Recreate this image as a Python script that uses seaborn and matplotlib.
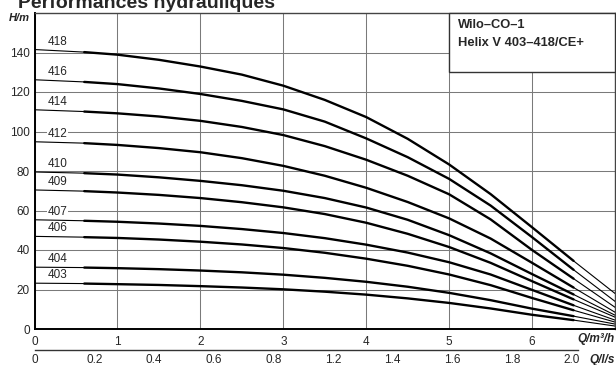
import numpy as np
import pandas as pd
import matplotlib
matplotlib.use("Agg")
import matplotlib.pyplot as plt
import seaborn as sns
from matplotlib.patches import Rectangle

# ---------------- data ----------------
q = [0, 0.6, 1, 1.5, 2, 2.5, 3, 3.5, 4, 4.5, 5, 5.5, 6, 6.5, 7]
h418 = [141.5, 140.2, 138.9, 136.3, 132.9, 128.8, 123.2, 116.0, 107.3, 96.3, 83.3, 68.3, 51.5, 34.5, 18]
h416 = [126.2, 125.1, 124.0, 121.8, 119.0, 115.5, 111.2, 105.0, 96.5, 87.0, 76.0, 62.5, 46.5, 30, 14]
h414 = [111, 110.1, 109.2, 107.6, 105.4, 102.3, 98.2, 92.6, 85.7, 77.6, 68.2, 55.5, 40.0, 25.5, 11]
h412 = [94.8, 94.1, 93.2, 91.6, 89.5, 86.5, 82.6, 77.6, 71.5, 64.3, 56.0, 45.8, 33.5, 21, 8.5]
h410 = [79.5, 78.9, 78.2, 76.8, 75.0, 72.8, 70.0, 66.3, 61.5, 55.3, 47.5, 38.3, 27.8, 17.5, 7]
h409 = [70.4, 69.8, 69.1, 67.9, 66.3, 64.2, 61.6, 58.2, 53.8, 48.2, 41.5, 33.5, 24.2, 15, 6]
h407 = [55.3, 54.8, 54.3, 53.4, 52.2, 50.6, 48.6, 46.0, 42.7, 38.7, 33.8, 27.6, 19.8, 12, 4.5]
h406 = [46.9, 46.5, 46.1, 45.3, 44.2, 42.8, 41.0, 38.6, 35.6, 32.0, 27.6, 22.2, 15.7, 9.5, 3.5]
h404 = [31.3, 31.1, 30.8, 30.3, 29.6, 28.7, 27.5, 25.9, 23.9, 21.4, 18.3, 14.6, 10.3, 6.5, 2.5]
h403 = [23.2, 23.0, 22.7, 22.3, 21.7, 21.0, 20.1, 18.9, 17.4, 15.5, 13.2, 10.4, 7.2, 4.5, 1.5]
curve_names = ["418", "416", "414", "412", "410", "409", "407", "406", "404", "403"]
curves = [h418, h416, h414, h412, h410, h409, h407, h406, h404, h403]

yticks = [0, 20, 40, 60, 80, 100, 120, 140]
xticks = [0, 1, 2, 3, 4, 5, 6]
ls_ticks = [0, 0.72, 1.44, 2.16, 2.88, 3.6, 4.32, 5.04, 5.76, 6.48]   # l/s scale positions in m³/h
ls_labels = ["0", "0.2", "0.4", "0.6", "0.8", "1.2", "1.4", "1.6", "1.8", "2.0"]

title = "Performances hydrauliques"
box_lines = ["Wilo–CO–1", "Helix V 403–418/CE+"]

# ---------------- build long table ----------------
rows = []
for name, vals in zip(curve_names, curves):
    for x, y in zip(q, vals):
        rows.append({"pump": name, "Q": x, "H": y})
df = pd.DataFrame(rows)

sns.set_theme(style="white")
plt.rcParams["font.family"] = ["Liberation Sans", "DejaVu Sans"]

W, H = 616, 365
fig = plt.figure(figsize=(W / 100, H / 100), dpi=100)
ax = fig.add_axes([34.5 / W, 1 - 329 / H, (615 - 34.5) / W, (329 - 13) / H])

# thin start / end segments, thick middle
thin_start = df[df["Q"] <= 0.6]
thick = df[(df["Q"] >= 0.6) & (df["Q"] <= 6.5)]
thin_end = df[df["Q"] >= 6.5]
for part, lw in [(thin_start, 0.8), (thick, 1.7), (thin_end, 0.8)]:
    sns.lineplot(data=part, x="Q", y="H", units="pump", estimator=None,
                 color="black", lw=lw, ax=ax, legend=False, zorder=4,
                 sort=False)

ax.set_xlim(0, 7)
ax.set_ylim(0, 160)
ax.set_xticks(xticks)
ax.set_yticks(yticks)
ax.set_xticklabels([str(t) for t in xticks], fontsize=8.5)
ax.set_yticklabels([str(t) for t in yticks], fontsize=8.5)
ax.tick_params(length=0, pad=3.5)
ax.tick_params(axis="x", pad=5)
ax.set_xlabel("")
ax.set_ylabel("")
ax.grid(True, color="#7a7a7a", lw=0.75)
ax.set_axisbelow(True)
for s in ["left", "bottom"]:
    ax.spines[s].set_color("black")
    ax.spines[s].set_linewidth(1.4)
for s in ["top", "right"]:
    ax.spines[s].set_color("#444444")
    ax.spines[s].set_linewidth(1.0)

# curve labels
for name, vals in zip(curve_names, curves):
    ax.text(0.16, vals[0] + 1.0, name, fontsize=8.5, ha="left", va="bottom",
            zorder=5, bbox=dict(fc="white", ec="none", pad=0.3))

# info box
ax.add_patch(Rectangle((5, 130), 2.0, 30, fc="white", ec="#333333", lw=1.0,
                       zorder=3, clip_on=False))
ax.text(5.11, 153.8, box_lines[0], fontsize=9.3, fontweight="bold",
        ha="left", va="center", zorder=5)
ax.text(5.11, 145.0, box_lines[1], fontsize=9.3, fontweight="bold",
        ha="left", va="center", zorder=5)

# axis unit labels
fig.text(30 / W, 1 - 18 / H, "H/m", fontsize=8, fontweight="bold",
         fontstyle="italic", ha="right", va="center")
fig.text(615 / W, 1 - 339 / H, "Q/m³/h", fontsize=8.5, fontweight="bold",
         fontstyle="italic", ha="right", va="center")
fig.text(615 / W, 1 - 360 / H, "Q/l/s", fontsize=8.5, fontweight="bold",
         fontstyle="italic", ha="right", va="center")

# secondary l/s axis
ax2 = fig.add_axes([34.5 / W, 1 - 350 / H, (615 - 34.5) / W, 0.01])
ax2.set_xlim(0, 7)
ax2.patch.set_alpha(0)
ax2.set_yticks([])
for s in ["left", "top", "right"]:
    ax2.spines[s].set_visible(False)
ax2.spines["bottom"].set_color("#333333")
ax2.spines["bottom"].set_linewidth(1.0)
ax2.spines["bottom"].set_bounds(0, 6.55)
ax2.set_xticks(ls_ticks)
ax2.set_xticklabels(ls_labels, fontsize=8.5)
ax2.tick_params(axis="x", direction="in", length=3, width=0.8, color="#333333", pad=3)

# title (partly cut off at the top, as in the reference)
fig.text(18 / W, 1 - 8 / H, title, fontsize=14, fontweight="bold",
         ha="left", va="baseline")

fig.savefig("out.png", dpi=100)
